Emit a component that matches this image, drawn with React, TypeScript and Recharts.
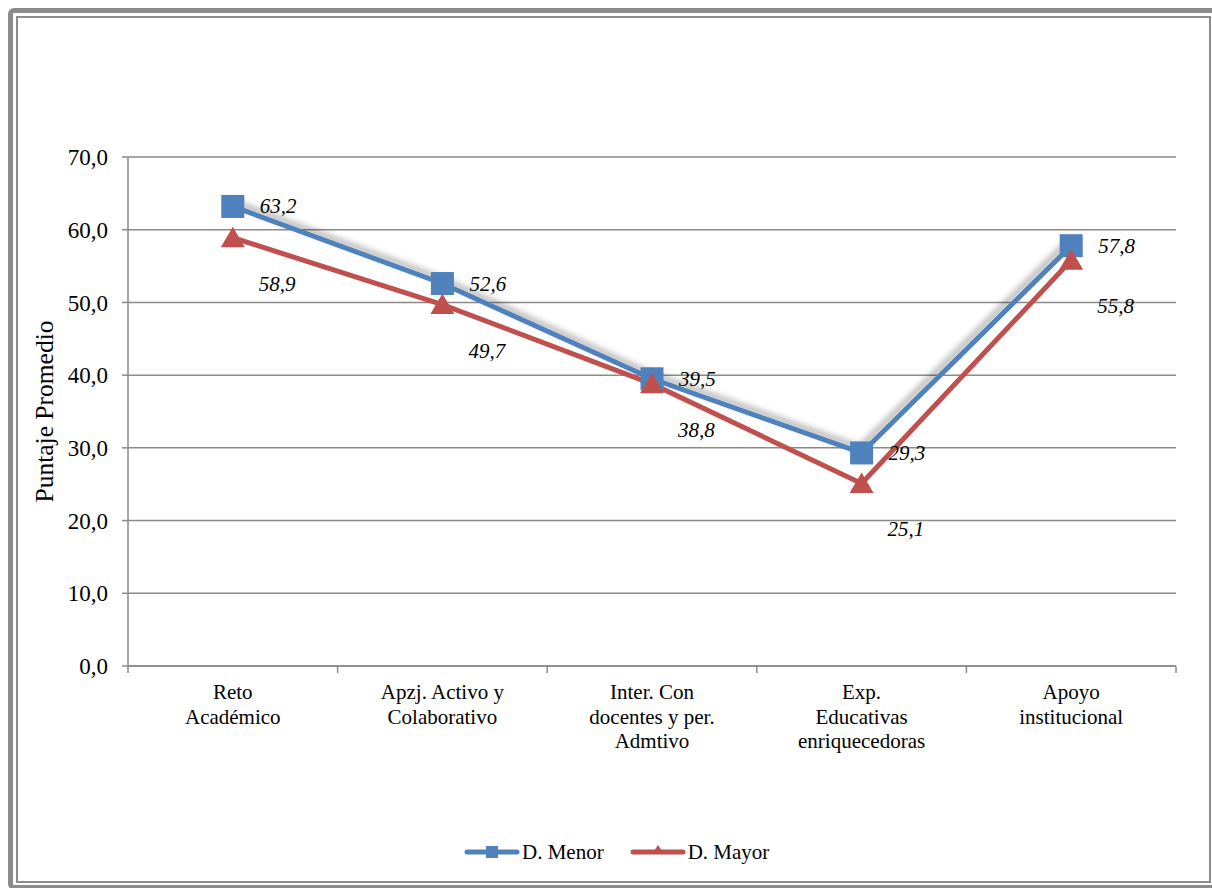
import React from "react";
import { LineChart, Line, XAxis, YAxis, CartesianGrid, Legend } from "recharts";

const categories = [
  "Reto\nAcadémico",
  "Apzj. Activo y\nColaborativo",
  "Inter. Con\ndocentes y per.\nAdmtivo",
  "Exp.\nEducativas\nenriquecedoras",
  "Apoyo\ninstitucional",
];
const menorValues = [63.2, 52.6, 39.5, 29.3, 57.8];
const mayorValues = [58.9, 49.7, 38.8, 25.1, 55.8];
const yTicks = [0, 10, 20, 30, 40, 50, 60, 70];
const seriesNames = ["D. Menor", "D. Mayor"];

const data = categories.map((c, i) => ({
  name: c,
  menor: menorValues[i],
  mayor: mayorValues[i],
}));

const BLUE = "#4F81BD";
const RED = "#C0504D";
const GRID = "#8a8a8a";
const FONT = "'Liberation Serif', 'Times New Roman', serif";

const fmt = (v: number) => v.toFixed(1).replace(".", ",");

const SquareDot = (props: any) => {
  const { cx, cy } = props;
  if (cx == null || cy == null) return null;
  return <rect x={cx - 11.5} y={cy - 11.5} width={23} height={23} fill={BLUE} />;
};

const TriangleDot = (props: any) => {
  const { cx, cy } = props;
  if (cx == null || cy == null) return null;
  return (
    <polygon
      points={`${cx},${cy - 11} ${cx + 12},${cy + 9.5} ${cx - 12},${cy + 9.5}`}
      fill={RED}
    />
  );
};

const BlueLabel = (props: any) => {
  const { x, y, value } = props;
  return (
    <text
      x={x + 27}
      y={y}
      dominantBaseline="central"
      fontFamily={FONT}
      fontStyle="italic"
      fontSize={21}
      fill="#000"
    >
      {fmt(value)}
    </text>
  );
};

const RedLabel = (props: any) => {
  const { x, y, value } = props;
  return (
    <text
      x={x + 26}
      y={y + 46}
      dominantBaseline="central"
      fontFamily={FONT}
      fontStyle="italic"
      fontSize={21}
      fill="#000"
    >
      {fmt(value)}
    </text>
  );
};

const XTick = (props: any) => {
  const { x, y, payload, visibleTicksCount } = props;
  const lines = String(payload.value).split("\n");
  const off = payload.offset || 0;
  const isLast = payload.index === (visibleTicksCount ?? 5) - 1;
  return (
    <g>
      <line x1={x - off} x2={x - off} y1={y} y2={y + 7} stroke={GRID} strokeWidth={1.5} />
      {isLast && (
        <line x1={x + off} x2={x + off} y1={y} y2={y + 7} stroke={GRID} strokeWidth={1.5} />
      )}
      <text textAnchor="middle" fontFamily={FONT} fontSize={21} fill="#000">
        {lines.map((l, i) => (
          <tspan key={i} x={x} y={y + 33 + i * 24.5}>
            {l}
          </tspan>
        ))}
      </text>
    </g>
  );
};

const LegendContent = () => (
  <div
    style={{
      display: "flex",
      alignItems: "center",
      fontFamily: FONT,
      fontSize: 21,
      color: "#000",
      lineHeight: "24px",
    }}
  >
    <svg width={56} height={16} style={{ display: "block" }}>
      <line x1={3} x2={53} y1={8} y2={8} stroke={BLUE} strokeWidth={5} strokeLinecap="round" />
      <rect x={22} y={2} width={12} height={12} fill={BLUE} />
    </svg>
    <span style={{ marginLeft: 2 }}>{seriesNames[0]}</span>
    <svg width={56} height={16} style={{ display: "block", marginLeft: 26 }}>
      <line x1={3} x2={53} y1={8} y2={8} stroke={RED} strokeWidth={5} strokeLinecap="round" />
      <polygon points="28,1 34,10 22,10" fill={RED} />
    </svg>
    <span style={{ marginLeft: 2 }}>{seriesNames[1]}</span>
  </div>
);

export default function App() {
  return (
    <div
      style={{
        position: "absolute",
        left: 0,
        top: 0,
        width: 1212,
        height: 888,
        overflow: "hidden",
        background: "#fff",
      }}
    >
      <div
        style={{
          position: "absolute",
          left: 8,
          top: 8,
          width: 1210,
          height: 882,
          border: "5px solid #8c8c8c",
          borderRadius: 6,
          boxSizing: "border-box",
        }}
      />
      <div
        style={{
          position: "absolute",
          left: 16,
          top: 16,
          width: 1195,
          height: 867,
          border: "2.5px solid #8c8c8c",
          boxSizing: "border-box",
        }}
      />
      <div style={{ position: "absolute", left: 0, top: 0 }}>
        <LineChart
          width={1212}
          height={888}
          data={data}
          margin={{ top: 157, right: 36, bottom: 102, left: 0 }}
        >
          <defs>
            <filter id="blueShadow" x="-10%" y="-20%" width="120%" height="140%">
              <feDropShadow dx={-2} dy={-5} stdDeviation={3} floodColor="#000" floodOpacity={0.35} />
            </filter>
          </defs>
          <CartesianGrid horizontal vertical={false} stroke={GRID} strokeWidth={1.5} />
          <XAxis
            dataKey="name"
            scale="band"
            height={120}
            tickLine={false}
            tickSize={0}
            tickMargin={0}
            interval={0}
            axisLine={{ stroke: GRID, strokeWidth: 1.5 }}
            tick={<XTick />}
          />
          <YAxis
            domain={[0, 70]}
            ticks={yTicks}
            width={128}
            tickSize={6}
            tickMargin={14}
            tickFormatter={fmt}
            axisLine={{ stroke: GRID, strokeWidth: 1.5 }}
            tickLine={{ stroke: GRID, strokeWidth: 1.5 }}
            tick={{ fill: "#000", fontFamily: FONT, fontSize: 23 }}
            label={{
              content: (p: any) => {
                const vb = p.viewBox || { x: 0, y: 157, width: 128, height: 509 };
                const cx = vb.x + 44;
                const cy = vb.y + vb.height / 2;
                return (
                  <text
                    x={cx}
                    y={cy}
                    transform={`rotate(-90 ${cx} ${cy})`}
                    textAnchor="middle"
                    dominantBaseline="central"
                    fontFamily={FONT}
                    fontSize={25.5}
                    fill="#000"
                  >
                    Puntaje Promedio
                  </text>
                );
              },
            }}
          />
          <Legend
            verticalAlign="middle"
            align="center"
            content={<LegendContent />}
            wrapperStyle={{ position: "absolute", top: 840, left: 464, width: 400, height: 26 }}
          />
          <Line
            name={seriesNames[0]}
            dataKey="menor"
            stroke={BLUE}
            strokeWidth={5}
            filter="url(#blueShadow)"
            dot={<SquareDot />}
            activeDot={false}
            label={<BlueLabel />}
            isAnimationActive={false}
          />
          <Line
            name={seriesNames[1]}
            dataKey="mayor"
            stroke={RED}
            strokeWidth={5}
            dot={<TriangleDot />}
            activeDot={false}
            label={<RedLabel />}
            isAnimationActive={false}
          />
        </LineChart>
      </div>
    </div>
  );
}
